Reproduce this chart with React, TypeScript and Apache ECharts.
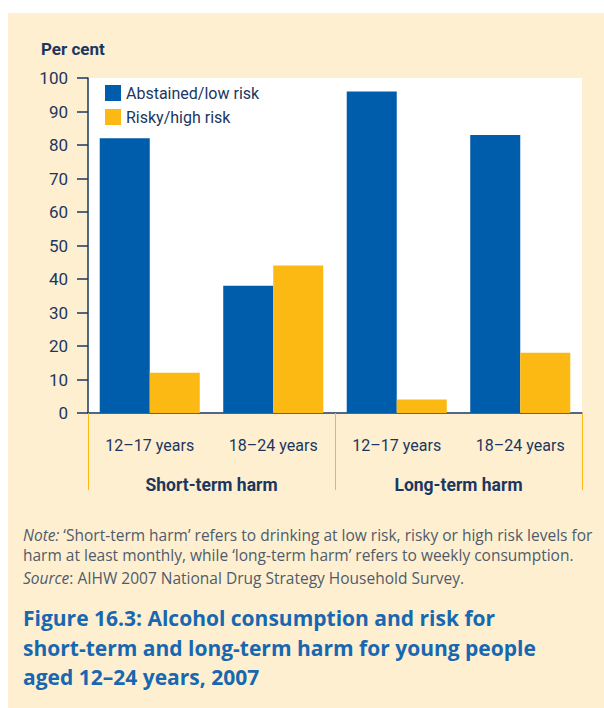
import React, { useEffect, useRef } from "react";
import * as echarts from "echarts";

const ageGroups = ["12–17 years", "18–24 years", "12–17 years", "18–24 years"];
const harmGroups = ["Short-term harm", "Long-term harm"];
const abstainedLowRisk = [82, 38, 96, 83];
const riskyHighRisk = [12, 44, 4, 18];
const seriesNames = ["Abstained/low risk", "Risky/high risk"];

const NAVY = "#1b3760";
const BLUE = "#005dab";
const YELLOW = "#fdb913";
const BEIGE = "#feefd0";
const TITLE_BLUE = "#1767b1";
const GREY = "#4f5b6b";
const COND = '"Roboto", sans-serif';
const REG = '"Open Sans", "Noto Sans", sans-serif';

export default function App() {
  const ref = useRef<HTMLDivElement>(null);
  useEffect(() => {
    if (!ref.current) return;
    const chart = echarts.init(ref.current, undefined, { renderer: "svg" });
    chart.setOption({
      animation: false,
      backgroundColor: BEIGE,
      textStyle: { fontFamily: COND },
      grid: {
        left: 88,
        right: 22,
        top: 78,
        bottom: 295,
        show: true,
        backgroundColor: "#ffffff",
        borderWidth: 0,
      },
      legend: {
        orient: "vertical",
        left: 100,
        top: 80,
        itemWidth: 16,
        itemHeight: 16,
        itemGap: 8,
        icon: "rect",
        textStyle: { color: NAVY, fontSize: 16, fontFamily: COND },
        data: seriesNames,
      },
      xAxis: [
        {
          type: "category",
          data: ageGroups,
          position: "bottom",
          axisLine: { show: true, lineStyle: { color: NAVY, width: 1.5 } },
          axisTick: { show: false },
          axisLabel: { color: NAVY, fontSize: 16, fontFamily: COND, margin: 24, interval: 0 },
        },
        {
          type: "category",
          data: harmGroups,
          position: "bottom",
          axisLine: { show: false },
          axisTick: { show: true, length: 77, lineStyle: { color: YELLOW, width: 1 } },
          axisLabel: { color: NAVY, fontSize: 17.5, fontWeight: "bold", fontFamily: COND, margin: 63, interval: 0 },
        },
      ],
      yAxis: {
        type: "value",
        min: 0,
        max: 100,
        interval: 10,
        axisLine: { show: true, lineStyle: { color: NAVY, width: 1.5 } },
        axisTick: { show: true, length: 11, lineStyle: { color: NAVY, width: 1.5 } },
        splitLine: { show: false },
        axisLabel: { color: NAVY, fontSize: 17, fontFamily: COND, margin: 20 },
      },
      series: [
        {
          name: seriesNames[0],
          type: "bar",
          xAxisIndex: 0,
          data: abstainedLowRisk,
          itemStyle: { color: BLUE },
          barGap: "0%",
          barCategoryGap: "19%",
        },
        {
          name: seriesNames[1],
          type: "bar",
          xAxisIndex: 0,
          data: riskyHighRisk,
          itemStyle: { color: YELLOW },
          barGap: "0%",
          barCategoryGap: "19%",
        },
      ],
      graphic: [
        { type: "rect", shape: { x: 0, y: 0, width: 604, height: 13 }, style: { fill: "#ffffff" }, silent: true },
        { type: "rect", shape: { x: 0, y: 0, width: 8, height: 708 }, style: { fill: "#ffffff" }, silent: true },
        {
          type: "text",
          x: 41,
          y: 49,
          style: {
            text: "Per cent",
            fill: NAVY,
            font: `bold 17px ${COND}`,
            textVerticalAlign: "middle",
          },
        },
        {
          type: "text",
          x: 23,
          y: 535,
          style: {
            text: "{i|Note:} ‘Short-term harm’ refers to drinking at low risk, risky or high risk levels for",
            fill: GREY,
            font: `15.5px ${REG}`,
            textVerticalAlign: "middle",
            rich: { i: { fontStyle: "italic", fill: GREY, font: `italic 15.5px ${REG}` } },
          },
        },
        {
          type: "text",
          x: 23,
          y: 555,
          style: {
            text: "harm at least monthly, while ‘long-term harm’ refers to weekly consumption.",
            fill: GREY,
            font: `15.5px ${REG}`,
            textVerticalAlign: "middle",
          },
        },
        {
          type: "text",
          x: 23,
          y: 578,
          style: {
            text: "{i|Source}: AIHW 2007 National Drug Strategy Household Survey.",
            fill: GREY,
            font: `15.5px ${REG}`,
            textVerticalAlign: "middle",
            rich: { i: { fontStyle: "italic", fill: GREY, font: `italic 15.5px ${REG}` } },
          },
        },
        ...[
          "Figure 16.3: Alcohol consumption and risk for",
          "short-term and long-term harm for young people",
          "aged 12–24 years, 2007",
        ].map((t, i) => ({
          type: "text",
          x: 23,
          y: 618 + i * 29.5,
          style: {
            text: t,
            fill: TITLE_BLUE,
            font: `bold 21px ${REG}`,
            textVerticalAlign: "middle",
          },
        })),
      ],
    });
    return () => chart.dispose();
  }, []);
  return (
    <div
      ref={ref}
      style={{ position: "fixed", left: 0, top: 0, width: 604, height: 708 }}
    />
  );
}
